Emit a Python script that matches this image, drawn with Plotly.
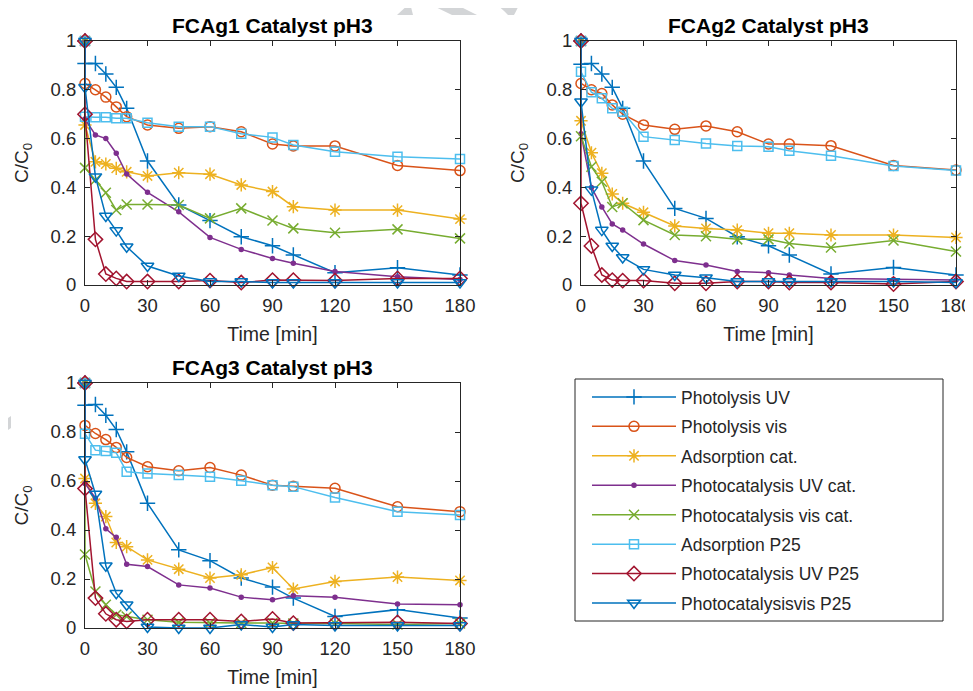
import plotly.graph_objects as go

# ---------------- data ----------------
time_min = [0, 0, 5, 10, 15, 20, 30, 45, 60, 75, 90, 100, 120, 150, 180]

series_names = [
    "Photolysis UV", "Photolysis vis", "Adsorption cat.", "Photocatalysis UV cat.",
    "Photocatalysis vis cat.", "Adsorption P25", "Photocatalysis UV P25", "Photocatalysisvis P25",
]

panel_titles = ["FCAg1 Catalyst pH3", "FCAg2 Catalyst pH3", "FCAg3 Catalyst pH3"]

# FCAg1
fcag1_photolysis_uv = [1, 0.908, 0.908, 0.865, 0.81, 0.724, 0.508, 0.328, 0.264, 0.198, 0.161, 0.123, 0.05, 0.071, 0.041]
fcag1_photolysis_vis = [1, 0.826, 0.80, 0.77, 0.73, 0.69, 0.656, 0.642, 0.649, 0.628, 0.578, 0.57, 0.57, 0.49, 0.469]
fcag1_adsorption_cat = [1, 0.656, 0.505, 0.496, 0.478, 0.464, 0.447, 0.46, 0.454, 0.41, 0.383, 0.321, 0.307, 0.307, 0.27]
fcag1_photocat_uv_cat = [1, 0.68, 0.615, 0.60, 0.54, 0.455, 0.38, 0.30, 0.195, 0.146, 0.109, 0.089, 0.055, 0.034, 0.023]
fcag1_photocat_vis_cat = [1, 0.48, 0.43, 0.378, 0.307, 0.33, 0.33, 0.328, 0.273, 0.314, 0.264, 0.232, 0.214, 0.228, 0.191]
fcag1_adsorption_p25 = [1, 0.69, 0.687, 0.687, 0.683, 0.683, 0.665, 0.649, 0.649, 0.62, 0.605, 0.574, 0.546, 0.526, 0.516]
fcag1_photocat_uv_p25 = [1, 0.70, 0.187, 0.045, 0.027, 0.014, 0.014, 0.014, 0.018, 0.01, 0.02, 0.02, 0.018, 0.027, 0.027]
fcag1_photocat_vis_p25 = [1, 0.81, 0.444, 0.283, 0.223, 0.157, 0.078, 0.037, 0.014, 0.014, 0.01, 0.01, 0.01, 0.01, 0.01]

# FCAg2
fcag2_photolysis_uv = [1, 0.905, 0.908, 0.865, 0.81, 0.724, 0.508, 0.314, 0.273, 0.198, 0.161, 0.123, 0.045, 0.072, 0.041]
fcag2_photolysis_vis = [1, 0.826, 0.80, 0.785, 0.738, 0.70, 0.656, 0.638, 0.652, 0.628, 0.578, 0.578, 0.571, 0.49, 0.471]
fcag2_adsorption_cat = [1, 0.673, 0.542, 0.458, 0.373, 0.335, 0.298, 0.242, 0.232, 0.225, 0.212, 0.212, 0.205, 0.205, 0.195]
fcag2_photocat_uv_cat = [1, 0.62, 0.40, 0.32, 0.25, 0.225, 0.168, 0.10, 0.082, 0.055, 0.05, 0.041, 0.027, 0.023, 0.02]
fcag2_photocat_vis_cat = [1, 0.61, 0.485, 0.423, 0.32, 0.335, 0.266, 0.205, 0.20, 0.187, 0.187, 0.17, 0.154, 0.182, 0.137]
fcag2_adsorption_p25 = [1, 0.874, 0.79, 0.765, 0.724, 0.71, 0.608, 0.594, 0.58, 0.57, 0.567, 0.55, 0.53, 0.488, 0.469]
fcag2_photocat_uv_p25 = [1, 0.335, 0.16, 0.041, 0.02, 0.018, 0.018, 0.007, 0.007, 0.014, 0.014, 0.01, 0.01, 0.004, 0.014]
fcag2_photocat_vis_p25 = [1, 0.751, 0.39, 0.225, 0.16, 0.113, 0.064, 0.041, 0.03, 0.014, 0.014, 0.014, 0.014, 0.014, 0.01]

# FCAg3
fcag3_photolysis_uv = [1, 0.909, 0.912, 0.868, 0.81, 0.719, 0.509, 0.319, 0.275, 0.204, 0.167, 0.122, 0.047, 0.075, 0.041]
fcag3_photolysis_vis = [1, 0.827, 0.794, 0.769, 0.737, 0.696, 0.658, 0.642, 0.655, 0.624, 0.583, 0.579, 0.57, 0.495, 0.475]
fcag3_adsorption_cat = [1, 0.61, 0.509, 0.455, 0.349, 0.332, 0.278, 0.24, 0.204, 0.217, 0.247, 0.159, 0.19, 0.208, 0.194]
fcag3_photocat_uv_cat = [1, 0.59, 0.53, 0.405, 0.37, 0.26, 0.251, 0.176, 0.163, 0.126, 0.115, 0.132, 0.126, 0.098, 0.095]
fcag3_photocat_vis_cat = [1, 0.30, 0.149, 0.095, 0.054, 0.047, 0.034, 0.023, 0.02, 0.02, 0.02, 0.018, 0.018, 0.014, 0.018]
fcag3_adsorption_p25 = [1, 0.793, 0.726, 0.722, 0.715, 0.638, 0.631, 0.624, 0.617, 0.601, 0.583, 0.577, 0.533, 0.475, 0.461]
fcag3_photocat_uv_p25 = [1, 0.569, 0.122, 0.058, 0.034, 0.027, 0.034, 0.034, 0.034, 0.027, 0.037, 0.02, 0.02, 0.023, 0.018]
fcag3_photocat_vis_p25 = [1, 0.688, 0.547, 0.254, 0.142, 0.095, 0.004, 0.0, 0.0, 0.014, 0.004, 0.014, 0.01, 0.01, 0.01]

x_ticks = [0, 30, 60, 90, 120, 150, 180]
y_ticks = [0, 0.2, 0.4, 0.6, 0.8, 1]

# ---------------- styles ----------------
colors = ["#0072BD", "#D95319", "#EDB120", "#7E2F8E", "#77AC30", "#4DBEEE", "#A2142F", "#0072BD"]
symbols = ["cross-thin-open", "circle-open", "asterisk-open", "circle", "x-thin-open",
           "square-open", "diamond-open", "triangle-down-open"]
sizes = [11, 10, 11, 4, 10, 9, 11, 11]

panels = [
    [fcag1_photolysis_uv, fcag1_photolysis_vis, fcag1_adsorption_cat, fcag1_photocat_uv_cat,
     fcag1_photocat_vis_cat, fcag1_adsorption_p25, fcag1_photocat_uv_p25, fcag1_photocat_vis_p25],
    [fcag2_photolysis_uv, fcag2_photolysis_vis, fcag2_adsorption_cat, fcag2_photocat_uv_cat,
     fcag2_photocat_vis_cat, fcag2_adsorption_p25, fcag2_photocat_uv_p25, fcag2_photocat_vis_p25],
    [fcag3_photolysis_uv, fcag3_photolysis_vis, fcag3_adsorption_cat, fcag3_photocat_uv_cat,
     fcag3_photocat_vis_cat, fcag3_adsorption_p25, fcag3_photocat_uv_p25, fcag3_photocat_vis_p25],
]

# The page body has an 8px default margin, so the figure is made smaller and
# all screen positions are shifted by that offset.
OFF = 8
W, H = 973 - OFF, 691 - OFF
FONT = "Liberation Sans, Arial, Helvetica, sans-serif"
AX = "#262626"


def px(x):
    return (x - OFF) / W


def py(y):
    return 1 - (y - OFF) / H


# plot-area boxes in screen pixels (left, right, top, bottom)
boxes = [(85, 460, 41, 285), (581, 956, 41, 285), (85, 460, 383, 628)]

fig = go.Figure()
axis_ids = ["", "2", "3"]
for p, data in enumerate(panels):
    for i, vals in enumerate(data):
        fig.add_trace(go.Scatter(
            x=time_min, y=vals, name=series_names[i],
            mode="lines+markers",
            line=dict(color=colors[i], width=1.5),
            marker=dict(symbol=symbols[i], size=sizes[i], color=colors[i],
                        line=dict(color=colors[i], width=1.5)),
            cliponaxis=False,
            legendgroup=series_names[i], showlegend=(p == 0),
            xaxis="x" + axis_ids[p], yaxis="y" + axis_ids[p],
        ))

common = dict(showline=True, linecolor=AX, linewidth=1, mirror="ticks", ticks="inside",
              ticklen=5, tickcolor=AX, showgrid=False, zeroline=False, automargin=False,
              tickfont=dict(family=FONT, size=18.5, color=AX))

layout = dict(template="none", width=W, height=H,
              margin=dict(l=0, r=0, t=0, b=0, autoexpand=False),
              paper_bgcolor="white", plot_bgcolor="white",
              font=dict(family=FONT, size=18, color=AX))

for p, (l, r, t, b) in enumerate(boxes):
    aid = axis_ids[p]
    layout["xaxis" + aid] = dict(common, domain=[px(l), px(r)], range=[0, 180],
                                 tickvals=x_ticks, anchor="y" + aid, ticklabelstandoff=4,
                                 title=dict(text="Time [min]", font=dict(family=FONT, size=19.5, color=AX), standoff=12))
    layout["yaxis" + aid] = dict(common, domain=[py(b), py(t)], range=[0, 1],
                                 tickvals=y_ticks, anchor="x" + aid, ticklabelstandoff=4,
                                 title=dict(text="C/C<sub>0</sub>", font=dict(family=FONT, size=19, color=AX), standoff=16))

layout["legend"] = dict(x=px(587), y=py(379), xanchor="left", yanchor="top",
                        bgcolor="rgba(0,0,0,0)", borderwidth=0,
                        font=dict(family=FONT, size=17.5, color=AX),
                        itemwidth=84, tracegroupgap=3.7, traceorder="grouped")

fig.update_layout(**layout)

# panel titles
for p, (l, r, t, b) in enumerate(boxes):
    fig.add_annotation(text="<b>" + panel_titles[p] + "</b>", xref="paper", yref="paper",
                       x=px((l + r) / 2), y=py(t - 16), xanchor="center", yanchor="middle",
                       showarrow=False, font=dict(family=FONT, size=21, color="black"))

# legend box
fig.add_shape(type="rect", xref="paper", yref="paper",
              x0=px(575), x1=px(943), y0=py(621), y1=py(379),
              line=dict(color=AX, width=1), fillcolor="rgba(0,0,0,0)")

# faint watermark fragments
wm = "#D3D5D7"
paths = [
    "M {},{} L {},{} L {},{} Z".format(px(397), py(15), px(410), py(3), px(413), py(15)),
    "M {},{} L {},{} L {},{} L {},{} Z".format(px(421), py(0), px(447), py(0), px(477), py(15), px(452), py(15)),
    "M {},{} L {},{} Q {},{} {},{} L {},{} Q {},{} {},{} Z".format(
        px(488), py(0), px(521), py(0), px(518), py(8), px(514), py(15),
        px(508), py(15), px(500), py(6), px(488), py(0)),
    "M {},{} L {},{} L {},{} L {},{} Z".format(px(8), py(418), px(11), py(416), px(11), py(428), px(8), py(430)),
]
for d in paths:
    fig.add_shape(type="path", xref="paper", yref="paper", path=d,
                  fillcolor=wm, line=dict(width=0), layer="below")

fig.write_html("out.html")
